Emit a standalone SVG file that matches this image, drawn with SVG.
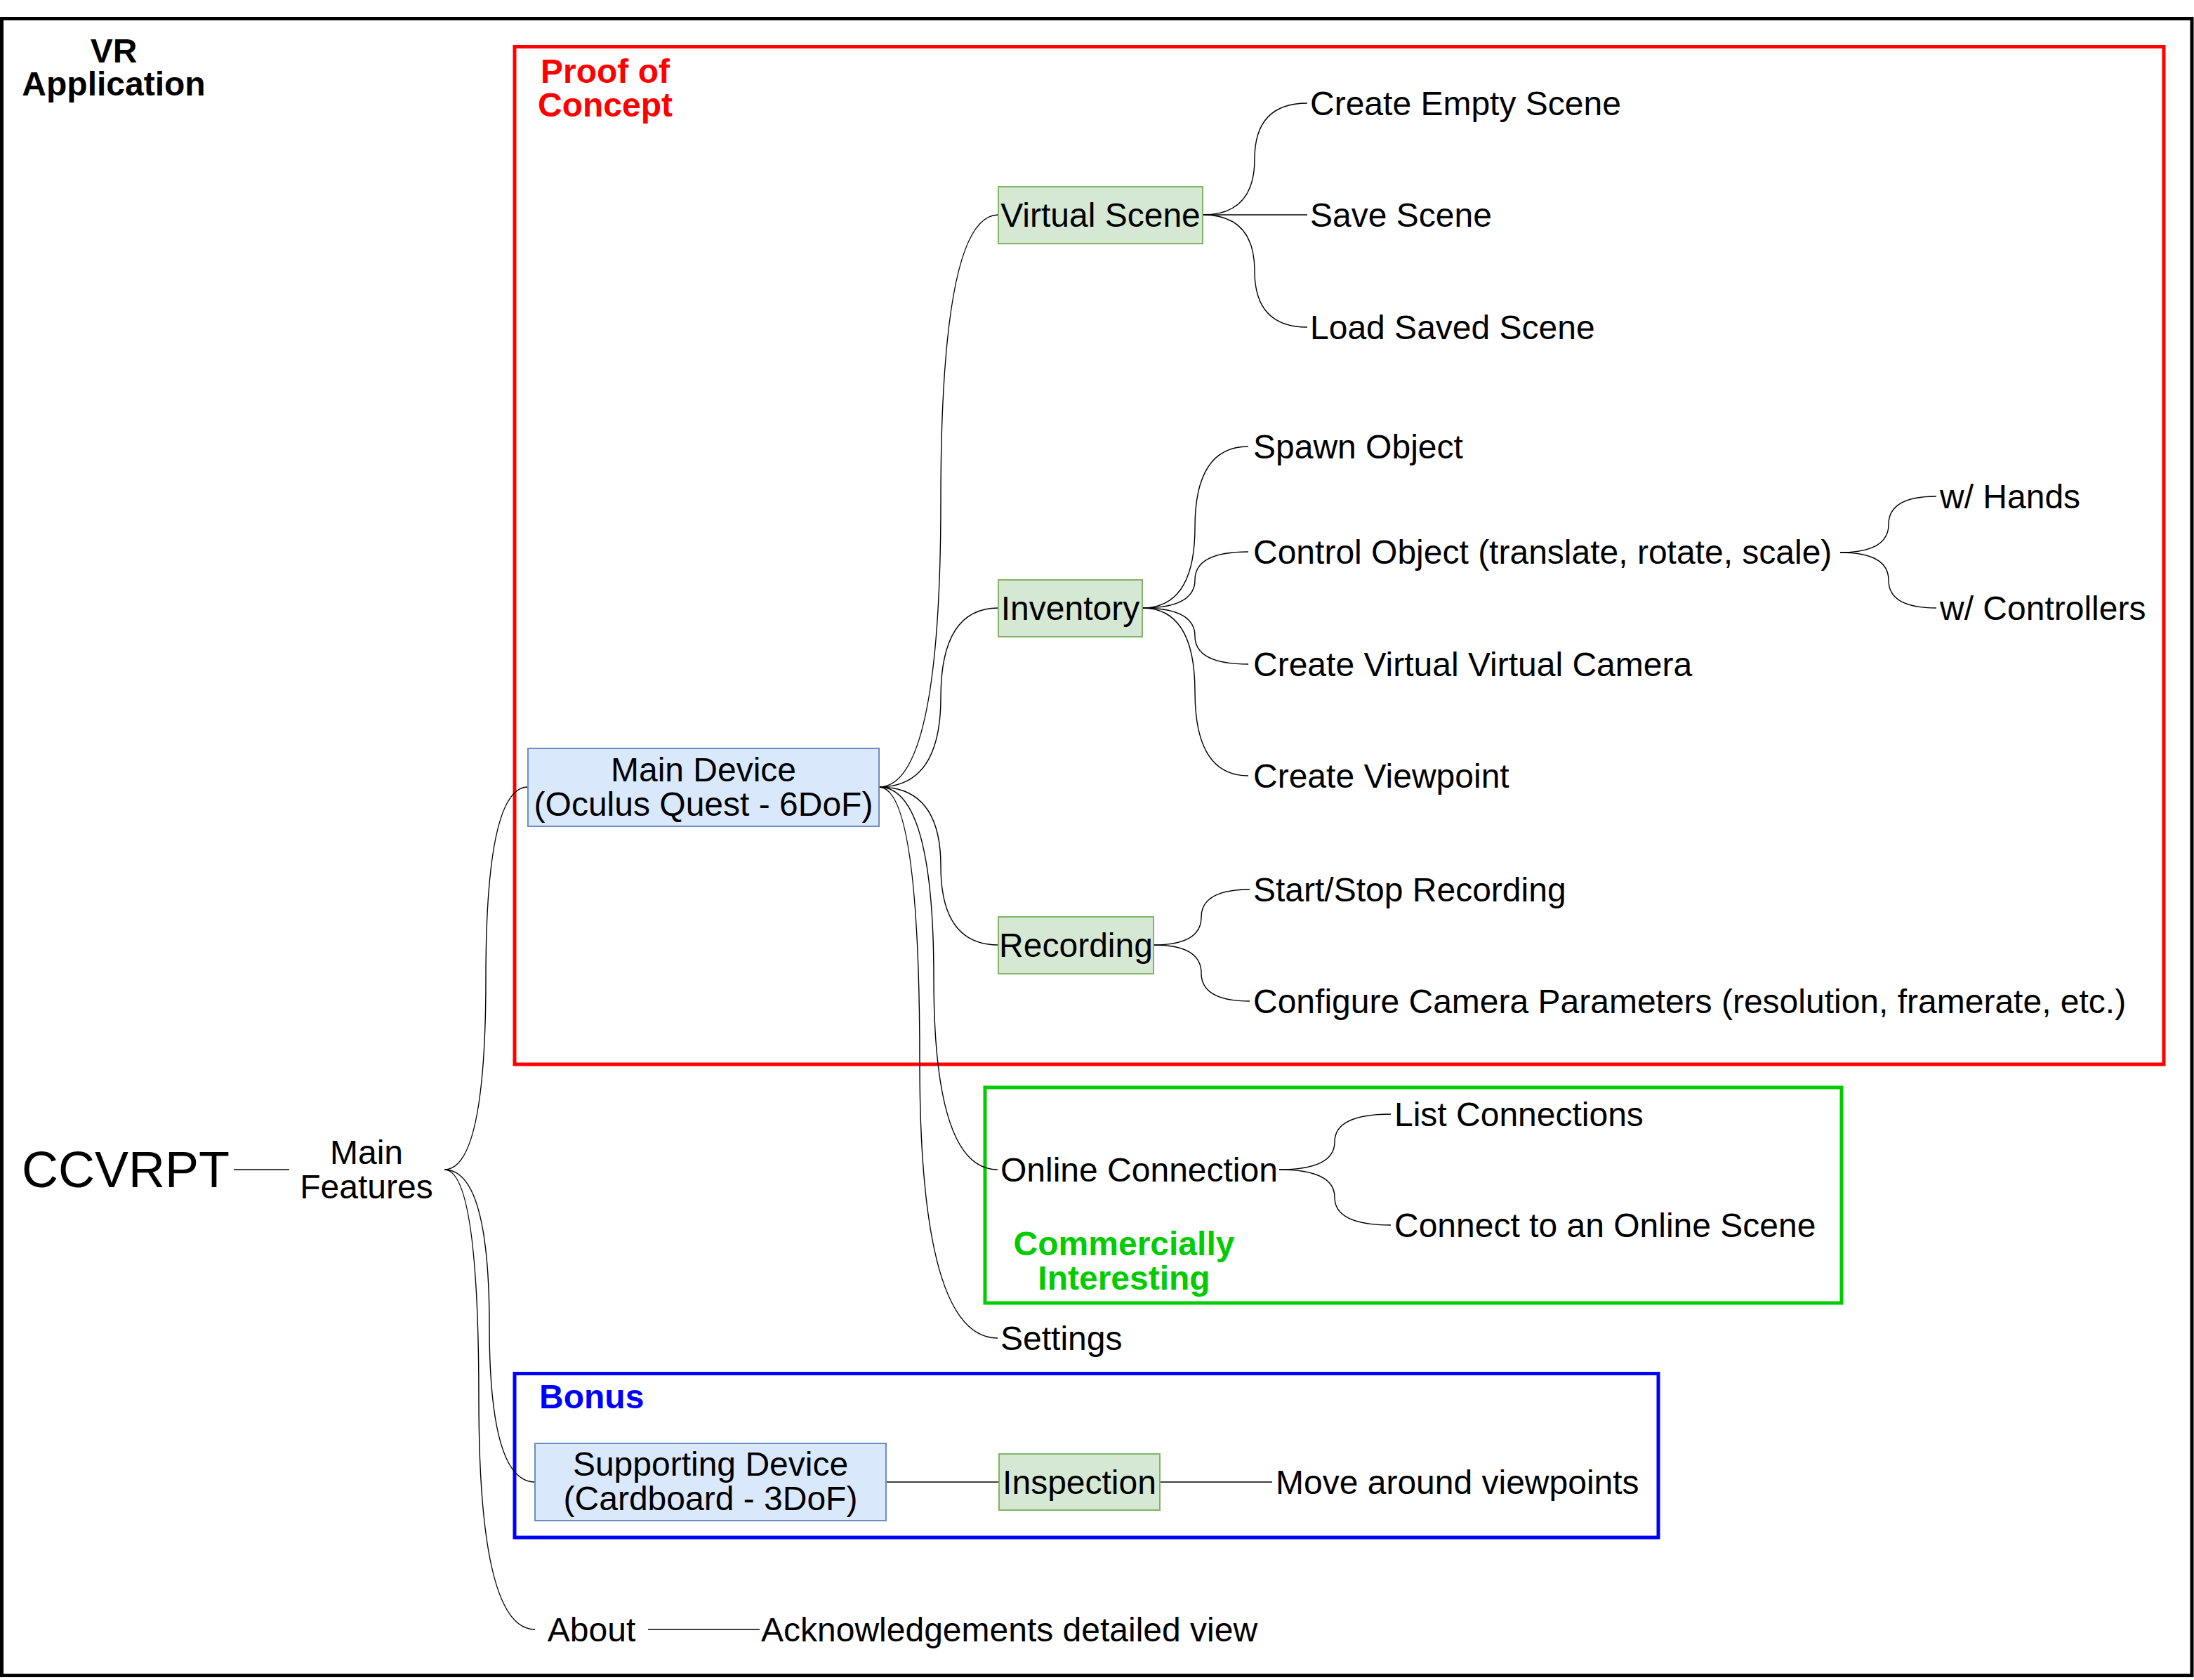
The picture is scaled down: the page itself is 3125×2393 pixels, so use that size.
<svg xmlns="http://www.w3.org/2000/svg" width="3125" height="2393" viewBox="0 0 3125 2393">
<style>
text{font-family:"Liberation Sans",Arial,Helvetica,sans-serif;font-size:48px;fill:#000}
.b{font-weight:bold}
.c{text-anchor:middle}
.frame{fill:none;stroke-width:5}
.blue{fill:#dae8fc;stroke:#6c8ebf;stroke-width:2}
.green{fill:#d5e8d4;stroke:#82b366;stroke-width:2}
#connectors path{fill:none;stroke:#000;stroke-width:1.4}
</style>
<rect x="0" y="0" width="3125" height="2393" fill="#fff"/>
<g id="frames">
<rect class="frame" x="2.5" y="26.5" width="3119.5" height="2360" stroke="#000"/>
<rect class="frame" x="733" y="66.5" width="2349" height="1449.5" stroke="#ff0000"/>
<rect class="frame" x="1403" y="1549" width="1220" height="307" stroke="#00cc00"/>
<rect class="frame" x="733" y="1956.5" width="1629" height="233.5" stroke="#0000ff"/>
</g>
<g id="group-labels">
<text class="b c" x="162" y="89">VR</text>
<text class="b c" x="162" y="136">Application</text>
<text class="b c" x="862" y="118" style="fill:#ff0000">Proof of</text>
<text class="b c" x="862" y="166" style="fill:#ff0000">Concept</text>
<text class="b c" x="1601" y="1788" style="fill:#00cc00">Commercially</text>
<text class="b c" x="1601" y="1837" style="fill:#00cc00">Interesting</text>
<text class="b" x="768" y="2006" style="fill:#0000ff">Bonus</text>
</g>
<g id="connectors">
<path d="M333,1666 L412,1666"/>
<path d="M633,1666 Q692,1666 692,1393.5 Q692,1121 752,1121"/>
<path d="M633,1666 Q697,1666 697,1888.5 Q697,2111 762,2111"/>
<path d="M633,1666 Q682,1666 682,1993.5 Q682,2321 762,2321"/>
<path d="M1252,1121 Q1340,1121 1340,713.5 Q1340,306 1422,306"/>
<path d="M1252,1121 Q1340,1121 1340,993.5 Q1340,866 1422,866"/>
<path d="M1252,1121 Q1340,1121 1340,1233.5 Q1340,1346 1422,1346"/>
<path d="M1252,1121 Q1330,1121 1330,1393.5 Q1330,1666 1421,1666"/>
<path d="M1252,1121 Q1310,1121 1310,1513.5 Q1310,1906 1421,1906"/>
<path d="M1713,306 Q1787,306 1787,226.5 Q1787,147 1862,147"/>
<path d="M1713,306 L1862,306"/>
<path d="M1713,306 Q1787,306 1787,386 Q1787,466 1862,466"/>
<path d="M1627,866 Q1702,866 1702,751 Q1702,636 1778,636"/>
<path d="M1627,866 Q1702,866 1702,826 Q1702,786 1778,786"/>
<path d="M1627,866 Q1702,866 1702,906 Q1702,946 1778,946"/>
<path d="M1627,866 Q1702,866 1702,985.5 Q1702,1105 1778,1105"/>
<path d="M2621,787 Q2690,787 2690,747 Q2690,707 2758,707"/>
<path d="M2621,787 Q2690,787 2690,826.5 Q2690,866 2758,866"/>
<path d="M1643,1346 Q1711,1346 1711,1306.5 Q1711,1267 1780,1267"/>
<path d="M1643,1346 Q1711,1346 1711,1386 Q1711,1426 1780,1426"/>
<path d="M1822,1666 Q1901,1666 1901,1626.5 Q1901,1587 1981,1587"/>
<path d="M1822,1666 Q1901,1666 1901,1705.5 Q1901,1745 1981,1745"/>
<path d="M1262,2111 L1423,2111"/>
<path d="M1652,2111 L1812,2111"/>
<path d="M923,2321 L1082,2321"/>
</g>
<g id="node-ccvrpt"><text x="31" y="1691" style="font-size:72px">CCVRPT</text></g>
<g id="node-main-features"><text class="c" x="522" y="1658">Main</text><text class="c" x="522" y="1707">Features</text></g>
<g id="node-main-device"><rect class="blue" x="752" y="1066" width="500" height="111"/><text class="c" x="1002" y="1113">Main Device</text><text class="c" x="1002" y="1162">(Oculus Quest - 6DoF)</text></g>
<g id="node-virtual-scene"><rect class="green" x="1422" y="266" width="291" height="81"/><text class="c" x="1567.5" y="323">Virtual Scene</text></g>
<g id="node-inventory"><rect class="green" x="1422" y="826" width="205" height="81"/><text class="c" x="1524.5" y="883">Inventory</text></g>
<g id="node-recording"><rect class="green" x="1422" y="1306" width="221" height="81"/><text class="c" x="1532.5" y="1363">Recording</text></g>
<g id="node-create-empty"><text x="1866" y="164">Create Empty Scene</text></g>
<g id="node-save-scene"><text x="1866" y="323">Save Scene</text></g>
<g id="node-load-scene"><text x="1866" y="483">Load Saved Scene</text></g>
<g id="node-spawn"><text x="1785" y="653">Spawn Object</text></g>
<g id="node-control"><text x="1785" y="803">Control Object (translate, rotate, scale)</text></g>
<g id="node-vcam"><text x="1785" y="963">Create Virtual Virtual Camera</text></g>
<g id="node-viewpoint"><text x="1785" y="1122">Create Viewpoint</text></g>
<g id="node-hands"><text x="2763" y="724">w/ Hands</text></g>
<g id="node-controllers"><text x="2763" y="883">w/ Controllers</text></g>
<g id="node-startstop"><text x="1785" y="1284">Start/Stop Recording</text></g>
<g id="node-configure"><text x="1785" y="1443">Configure Camera Parameters (resolution, framerate, etc.)</text></g>
<g id="node-online"><text x="1425" y="1683">Online Connection</text></g>
<g id="node-list-connections"><text x="1986" y="1604">List Connections</text></g>
<g id="node-connect-online"><text x="1986" y="1762">Connect to an Online Scene</text></g>
<g id="node-settings"><text x="1425" y="1923">Settings</text></g>
<g id="node-supporting"><rect class="blue" x="762" y="2056" width="500" height="110"/><text class="c" x="1012" y="2102">Supporting Device</text><text class="c" x="1012" y="2151">(Cardboard - 3DoF)</text></g>
<g id="node-inspection"><rect class="green" x="1423" y="2071" width="229" height="80"/><text class="c" x="1537.5" y="2128">Inspection</text></g>
<g id="node-move"><text x="1817" y="2128">Move around viewpoints</text></g>
<g id="node-about"><text class="c" x="842.5" y="2338">About</text></g>
<g id="node-ack"><text x="1084" y="2338">Acknowledgements detailed view</text></g>
</svg>
